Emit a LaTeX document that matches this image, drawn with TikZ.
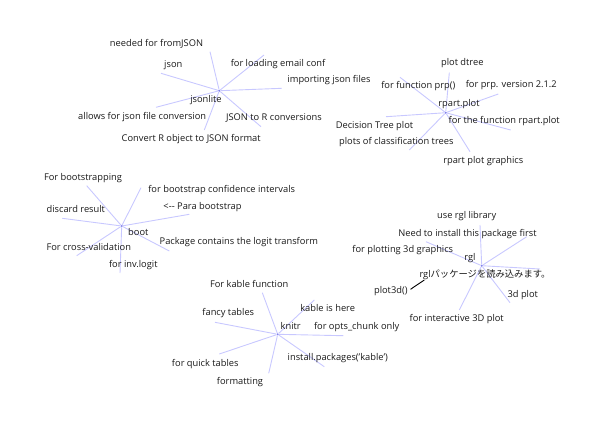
\documentclass[tikz,border=0pt]{standalone}
\usepackage{fontspec}
\setmainfont{Open Sans}
\newfontfamily\cjk{Noto Sans CJK JP}
\begin{document}
\begin{tikzpicture}[x=1pt,y=-1pt,
  lbl/.style={font=\fontsize{9.3}{11}\selectfont, text=black!90, inner sep=0pt},
  spoke/.style={draw={rgb,255:red,200;green,200;blue,255}, line width=0.9pt},
  hub/.style={circle, fill={rgb,255:red,130;green,130;blue,235}, inner sep=0pt, minimum size=2.2pt}]
\useasboundingbox (0,0) rectangle (600,429);
% ---------- jsonlite
\node[hub] (j) at (219.3,90.7) {};
\coordinate (j1) at (210,51.7);
\coordinate (j2) at (161,73.3);
\coordinate (j3) at (264,55);
\coordinate (j4) at (281.7,88.3);
\coordinate (j5) at (156,107.3);
\coordinate (j6) at (204.3,130);
\coordinate (j7) at (261,126.7);
\foreach \e in {j1,j2,j3,j4,j5,j6,j7} \draw[spoke] (j) -- (\e);
\node[lbl] (jl1) at (156.5,44) {needed for fromJSON};
\node[lbl] (jl2) at (173.3,65) {json};
\node[lbl] (jl3) at (278,64) {for loading email conf};
\node[lbl] (jl4) at (329,80) {importing json files};
\node[lbl] (jn) at (206,100) {jsonlite};
\node[lbl] (jl5) at (142.2,116.7) {allows for json file conversion};
\node[lbl] (jl6) at (274,118.3) {JSON to R conversions};
\node[lbl] (jl7) at (191.2,139) {Convert R object to JSON format};
% ---------- rpart.plot
\node[hub] (r) at (445.7,112.7) {};
\coordinate (r1) at (449.3,72.7);
\coordinate (r2) at (400,77.3);
\coordinate (r3) at (498.3,94);
\coordinate (r4) at (386,116.7);
\coordinate (r5) at (510.7,130);
\coordinate (r6) at (409.3,150);
\coordinate (r7) at (470,151.7);
\foreach \e in {r1,r2,r3,r4,r5,r6,r7} \draw[spoke] (r) -- (\e);
\node[lbl] (rl1) at (462.3,63.3) {plot dtree};
\node[lbl] (rl2) at (418.3,86) {for function prp()};
\node[lbl] (rl3) at (511.3,84.7) {for prp. version 2.1.2};
\node[lbl] (rn) at (459,104.3) {rpart.plot};
\node[lbl] (rl4) at (504.2,121.3) {for the function rpart.plot};
\node[lbl] (rl5) at (374.5,125.7) {Decision Tree plot};
\node[lbl] (rl6) at (396.3,141.7) {plots of classification trees};
\node[lbl] (rl7) at (483.3,161) {rpart plot graphics};
% ---------- boot
\node[hub] (b) at (121.7,226) {};
\coordinate (b1) at (86.7,185.7);
\coordinate (b2) at (141,187.7);
\coordinate (b3) at (189.3,214.3);
\coordinate (b4) at (62.3,218.3);
\coordinate (b5) at (76.7,255.7);
\coordinate (b6) at (169.3,251);
\coordinate (b7) at (120,273);
\foreach \e in {b1,b2,b3,b4,b5,b6,b7} \draw[spoke] (b) -- (\e);
\node[lbl] (bl1) at (83,177.7) {For bootstrapping};
\node[lbl] (bl2) at (221.7,190) {for bootstrap confidence intervals};
\node[lbl] (bl3) at (202.5,207.3) {<{-}{-} Para bootstrap};
\node[lbl] (bl4) at (75.8,209.3) {discard result};
\node[lbl] (bn) at (138.3,231.7) {boot};
\node[lbl] (bl5) at (238.8,242.3) {Package contains the logit transform};
\node[lbl] (bl6) at (88.8,246.7) {For cross-validation};
\node[lbl] (bl7) at (133.3,264.7) {for inv.logit};
% ---------- rgl
\node[hub] (g) at (481.7,265.7) {};
\coordinate (g1) at (480,225);
\coordinate (g2) at (526.7,236.7);
\coordinate (g3) at (426,241.7);
\coordinate (g4) at (540,269);
\coordinate (g5) at (510,302.7);
\coordinate (g6) at (459.3,310);
\foreach \e in {g1,g2,g3,g4,g5,g6} \draw[spoke] (g) -- (\e);
\node[lbl] (gl1) at (466.7,216) {use rgl library};
\node[lbl] (gl2) at (467.5,233.7) {Need to install this package first};
\node[lbl] (gl3) at (402.8,250) {for plotting 3d graphics};
\node[lbl] (gn) at (470,258.3) {rgl};
\node[lbl] (gl4) at (485,275) {rgl{\cjk パッケージを読み込みます。}};
\node[lbl] (gl5) at (390.8,290.7) {plot3d()};
\node[lbl] (gl6) at (522.8,295) {3d plot};
\node[lbl] (gl7) at (456.7,319) {for interactive 3D plot};
\coordinate (g7s) at (410.5,289.3);
\coordinate (g7) at (424.3,280);
\draw[black, line width=0.9pt] (g7s) -- (g7);
% ---------- knitr
\node[hub] (k) at (277.7,334.3) {};
\coordinate (k1) at (262.3,292.7);
\coordinate (k2) at (314.3,300);
\coordinate (k3) at (215,322.3);
\coordinate (k4) at (343.3,335.7);
\coordinate (k5) at (219.3,354);
\coordinate (k6) at (268.7,373.3);
\coordinate (k7) at (324.3,366.7);
\foreach \e in {k1,k2,k3,k4,k5,k6,k7} \draw[spoke] (k) -- (\e);
\node[lbl] (kl1) at (249.2,284) {For kable function};
\node[lbl] (kl2) at (327.7,308.3) {kable is here};
\node[lbl] (kl3) at (228.3,313.3) {fancy tables};
\node[lbl] (kn) at (290.7,326) {knitr};
\node[lbl] (kl4) at (356.7,327.3) {for opts\_chunk only};
\node[lbl] (kl5) at (337.8,358.3) {install.packages('kable')};
\node[lbl] (kl6) at (205.3,364.3) {for quick tables};
\node[lbl] (kl7) at (240,382.3) {formatting};
\end{tikzpicture}
\end{document}
